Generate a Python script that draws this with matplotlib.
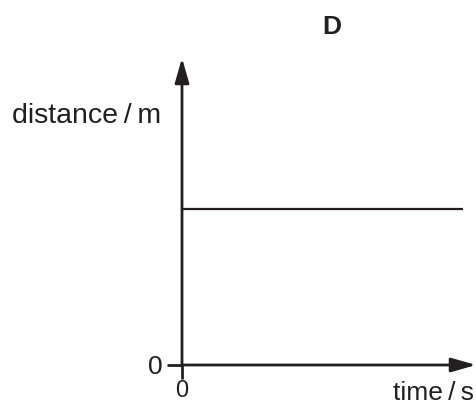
import matplotlib
matplotlib.use("Agg")
import matplotlib.pyplot as plt

# Data
time = [0.0, 0.956]
distance = [0.508, 0.508]
title = "D"
x_label = "time\u2009/\u2009s"
y_label = "distance\u2009/\u2009m"
x_ticks = [0]
y_ticks = [0]

plt.rcParams['font.family'] = ['Liberation Sans', 'DejaVu Sans']

W, H = 476, 407
FS = 19
INK = '#231f20'
fig = plt.figure(figsize=(W / 100, H / 100), dpi=100)

# axes origin at pixel (182, 365), right at 476, top at 58
x0, y0, x1, y1 = 182, 365, 476, 58
ax = fig.add_axes([x0 / W, (H - y0) / H, (x1 - x0) / W, (y0 - y1) / H])
ax.set_xlim(0, 1)
ax.set_ylim(0, 1)
for s in ax.spines.values():
    s.set_visible(False)
ax.patch.set_visible(False)

ax.plot(time, distance, color=INK, lw=1.6, solid_capstyle='butt')

arrow = dict(arrowstyle='-|>,head_length=1.5,head_width=0.43', mutation_scale=10,
             color=INK, lw=2.0, shrinkA=0, shrinkB=0)
ax.annotate('', xy=(1, 0), xytext=(0, 0), xycoords='axes fraction',
            textcoords='axes fraction', arrowprops=arrow)
ax.annotate('', xy=(0, 1), xytext=(0, 0), xycoords='axes fraction',
            textcoords='axes fraction', arrowprops=arrow)

ax.set_xticks(x_ticks)
ax.set_yticks(y_ticks)
ax.tick_params(direction='out', length=11, width=2.0, color=INK,
               labelsize=FS, labelcolor=INK)
ax.tick_params(axis='y', pad=3)
ax.tick_params(axis='x', pad=1, length=10, labelsize=17)

fig.text(12 / W, 1 - 123 / H, y_label, ha='left', va='baseline', fontsize=20.5,
         color=INK)
fig.text(474 / W, 1 - 400 / H, x_label, ha='right', va='baseline', fontsize=19,
         color=INK)
fig.text(332 / W, 1 - 34 / H, title, ha='center', va='baseline', fontsize=FS,
         fontweight='bold', color=INK)

fig.savefig("out.png", dpi=100)
